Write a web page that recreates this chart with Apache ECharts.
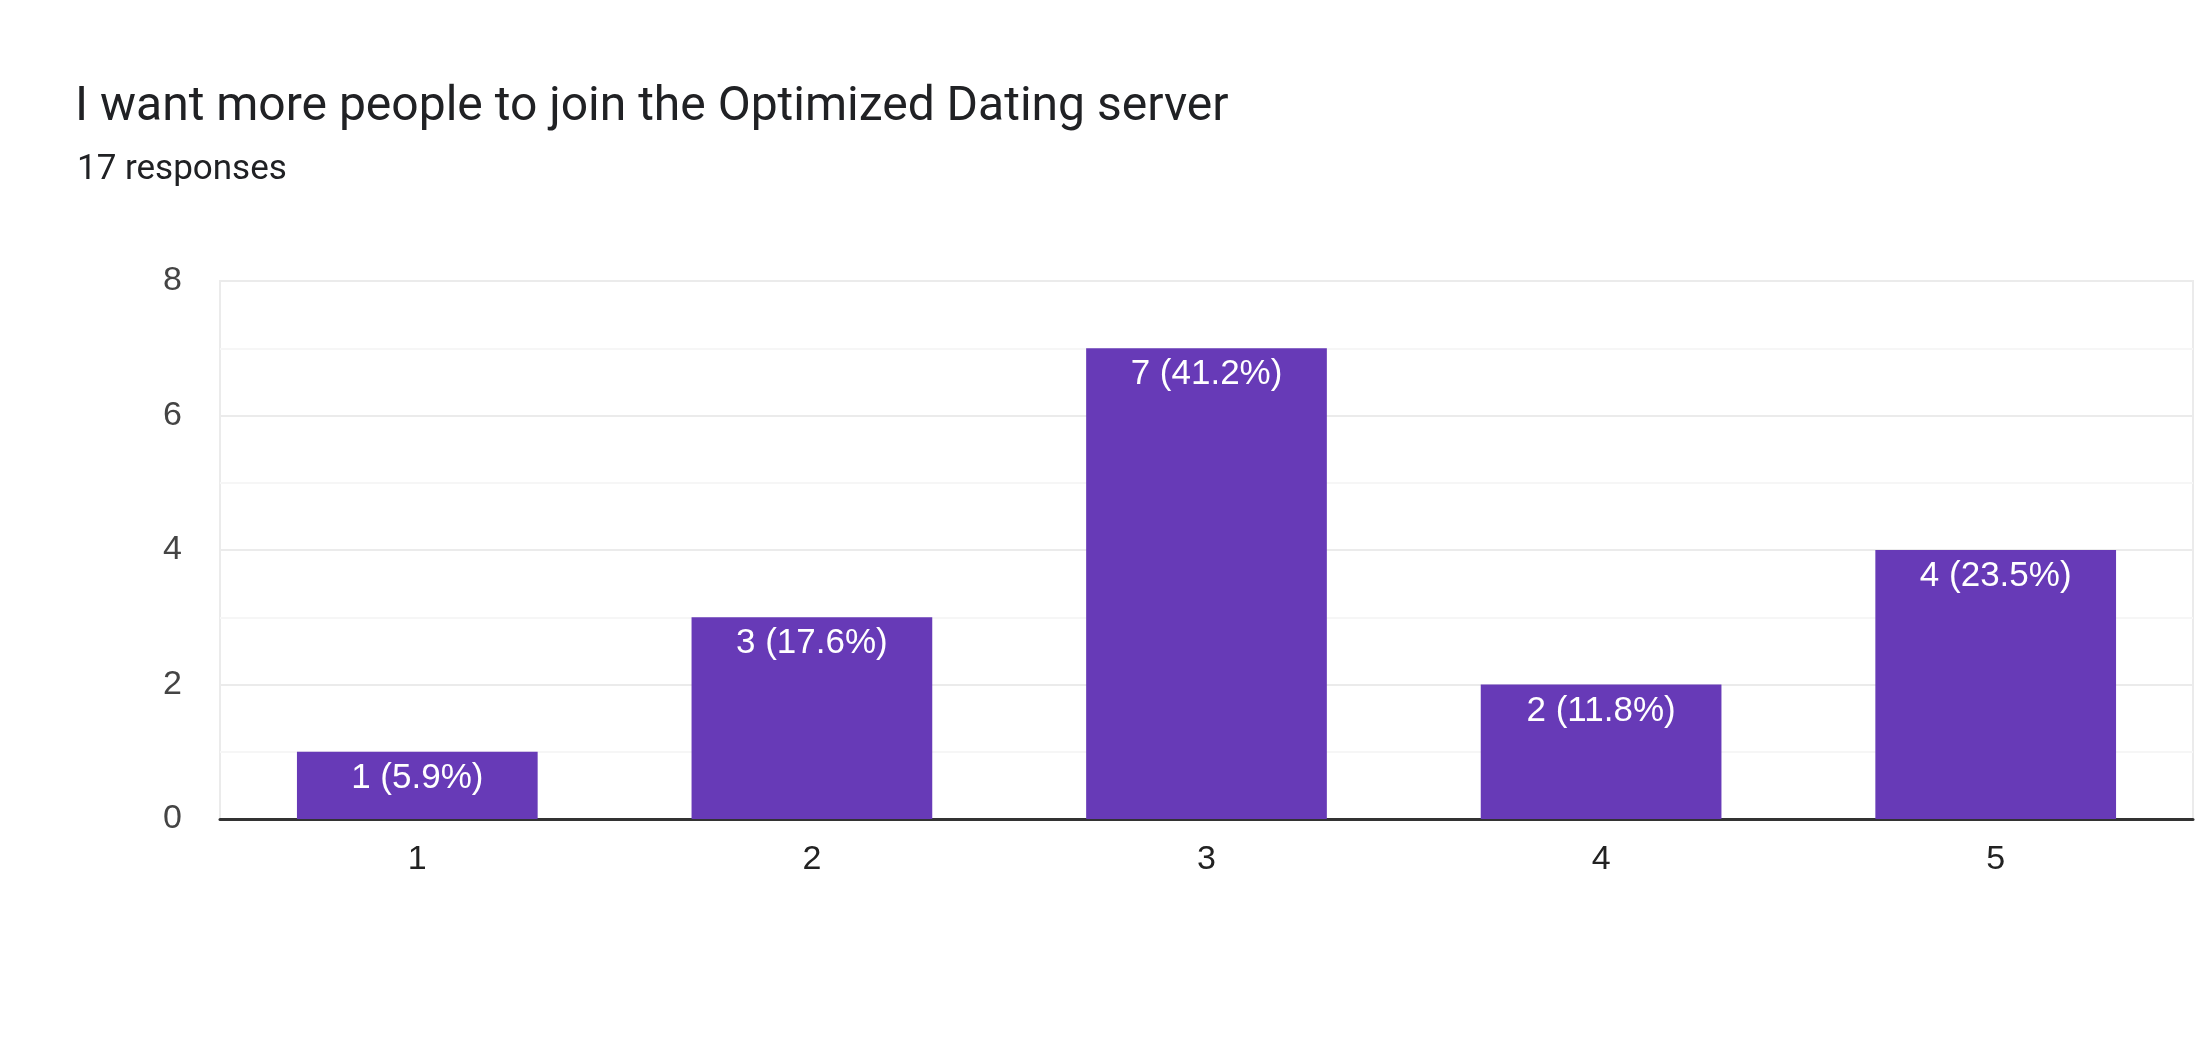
<!DOCTYPE html>
<html>
<head>
<meta charset="utf-8">
<script src="https://cdn.jsdelivr.net/npm/echarts@6/dist/echarts.min.js"></script>
<style>
html,body{margin:0;padding:0;background:#fff;}
#chart{width:2196px;height:1044px;}
</style>
</head>
<body>
<div id="chart"></div>
<script>
const titleText = 'I want more people to join the Optimized Dating server';
const subtitleText = '17 responses';
const categories = ['1', '2', '3', '4', '5'];
const counts = [1, 3, 7, 2, 4];
const yTicks = [0, 2, 4, 6, 8];

const total = counts.reduce((a, b) => a + b, 0);
const chart = echarts.init(document.getElementById('chart'));
chart.setOption({
  backgroundColor: '#ffffff',
  animation: false,
  title: [
    { text: titleText, left: 70, top: 79, textStyle: { fontFamily: 'Roboto', fontSize: 48, fontWeight: 'normal', color: '#202124' } },
    { text: subtitleText, left: 72, top: 148, textStyle: { fontFamily: 'Roboto', fontSize: 35, fontWeight: 'normal', color: '#202124' } }
  ],
  grid: { left: 220, right: 3, top: 281, height: 538, show: true, borderColor: '#ebebeb', borderWidth: 2, containLabel: false },
  xAxis: {
    type: 'category',
    data: categories,
    axisTick: { show: false },
    axisLine: { lineStyle: { color: '#333333', width: 3 } },
    axisLabel: { fontFamily: 'Liberation Sans, Arial', fontSize: 34, color: '#222222', margin: 24 }
  },
  yAxis: {
    type: 'value',
    min: yTicks[0],
    max: yTicks[yTicks.length - 1],
    interval: 2,
    axisLine: { show: false },
    axisTick: { show: false },
    axisLabel: { fontFamily: 'Liberation Sans, Arial', fontSize: 34, color: '#444444', margin: 38 },
    splitLine: { lineStyle: { color: '#ebebeb', width: 2 } },
    minorTick: { show: false, splitNumber: 2 },
    minorSplitLine: { show: true, lineStyle: { color: '#f6f6f6', width: 2 } }
  },
  series: [{
    type: 'bar',
    data: counts,
    barWidth: '61%',
    itemStyle: { color: '#673ab7' },
    label: {
      show: true,
      position: 'insideTop',
      distance: 9,
      color: '#ffffff',
      fontFamily: 'Liberation Sans, Arial',
      fontSize: 35,
      formatter: p => p.value + ' (' + (p.value / total * 100).toFixed(1) + '%)'
    }
  }]
});
</script>
</body>
</html>
